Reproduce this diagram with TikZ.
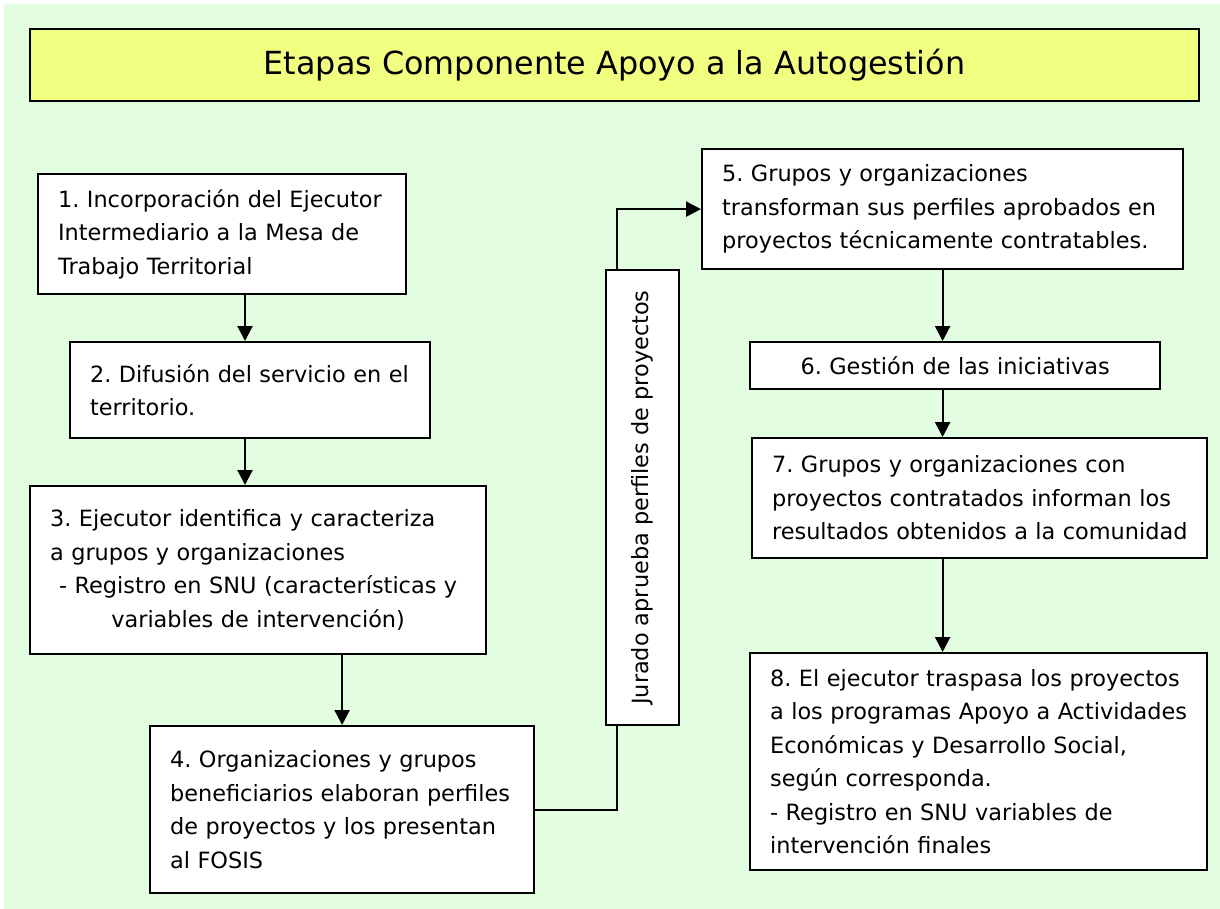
\documentclass[tikz,border=0pt]{standalone}
\usepackage{fontspec}
\setmainfont{DejaVu Sans}
\usepackage{graphicx}
\usetikzlibrary{arrows.meta}
\definecolor{bgc}{RGB}{227,253,225}
\definecolor{ttl}{RGB}{240,255,128}
\newcommand\li[1]{\mbox{#1}}
\newcommand\bodyfont{\fontsize{22.4}{33.5}\selectfont}
\frenchspacing
\begin{document}
\frenchspacing
\begin{tikzpicture}[x=1pt,y=-1pt,
  box/.style={draw=black, fill=white, line width=2.2pt, anchor=north west,
    inner xsep=20pt, inner ysep=0pt, align=left, font=\bodyfont},
  conn/.style={line width=2.2pt},
  arr/.style={conn, -{Triangle[length=15pt,width=15pt]}}]
\useasboundingbox (0,0) rectangle (1220,909);
\fill[white] (0,0) rectangle (1220,909);
\fill[bgc] (4,4) rectangle (1220,909);

\node[draw=black, fill=ttl, line width=2.2pt, anchor=north west, inner sep=0pt,
  minimum width=1169pt, minimum height=72pt, font=\fontsize{31.8}{38}\selectfont]
  (title) at (29,28) {Etapas Componente Apoyo a la Autogestión};

\node[box, minimum width=368pt, minimum height=120pt, text width=328pt] (b1) at (37,173)
  {\li{1. Incorporación del Ejecutor}\\\li{Intermediario a la Mesa de}\\\li{Trabajo Territorial}};
\node[box, minimum width=360pt, minimum height=96pt, text width=320pt] (b2) at (69,341)
  {\li{2. Difusión del servicio en el}\\\li{territorio.}};
\node[box, minimum width=456pt, minimum height=168pt, text width=416pt] (b3) at (29,485)
  {\li{3. Ejecutor identifica y caracteriza}\\\li{a grupos y organizaciones}\par
   {\centering\li{- Registro en SNU (características y}\\\li{variables de intervención)}\par}};
\node[box, minimum width=384pt, minimum height=167pt, text width=344pt] (b4) at (149,725)
  {\li{4. Organizaciones y grupos}\\\li{beneficiarios elaboran perfiles}\\\li{de proyectos y los presentan}\\\li{al FOSIS}};
\node[box, align=center, inner xsep=0pt, minimum width=73pt, minimum height=455pt] (jur) at (605,269)
  {\rotatebox{90}{Jurado aprueba perfiles de proyectos}};
\node[box, minimum width=481pt, minimum height=120pt, text width=441pt] (b5) at (701,148)
  {\li{5. Grupos y organizaciones}\\\li{transforman sus perfiles aprobados en}\\\li{proyectos técnicamente contratables.}};
\node[box, align=center, minimum width=410pt, minimum height=47pt, text width=370pt] (b6) at (749,341)
  {6. Gestión de las iniciativas};
\node[box, minimum width=455pt, minimum height=120pt, text width=415pt] (b7) at (751,437)
  {\li{7. Grupos y organizaciones con}\\\li{proyectos contratados informan los}\\\li{resultados obtenidos a la comunidad}};
\node[box, minimum width=457pt, minimum height=217pt, text width=417pt] (b8) at (749,652)
  {\li{8. El ejecutor traspasa los proyectos}\\\li{a los programas Apoyo a Actividades}\\\li{Económicas y Desarrollo Social,}\\\li{según corresponda.}\\\li{- Registro en SNU variables de}\\\li{intervención finales}};

\coordinate (ax) at (245,0);
\coordinate (jx) at (617,0);
\draw[arr] (b1.south -| ax) -- (b2.north -| ax);
\draw[arr] (b2.south -| ax) -- (b3.north -| ax);
\draw[arr] (b3.south -| b4.north) -- (b4.north);
\draw[conn] (b4.east) -| (jur.south -| jx);
\draw[arr] (jur.north -| jx) |- (b5.west);
\draw[arr] (b5.south) -- (b6.north -| b5.south);
\draw[arr] (b6.south -| b5.south) -- (b7.north -| b5.south);
\draw[arr] (b7.south -| b5.south) -- (b8.north -| b5.south);
\end{tikzpicture}
\end{document}
